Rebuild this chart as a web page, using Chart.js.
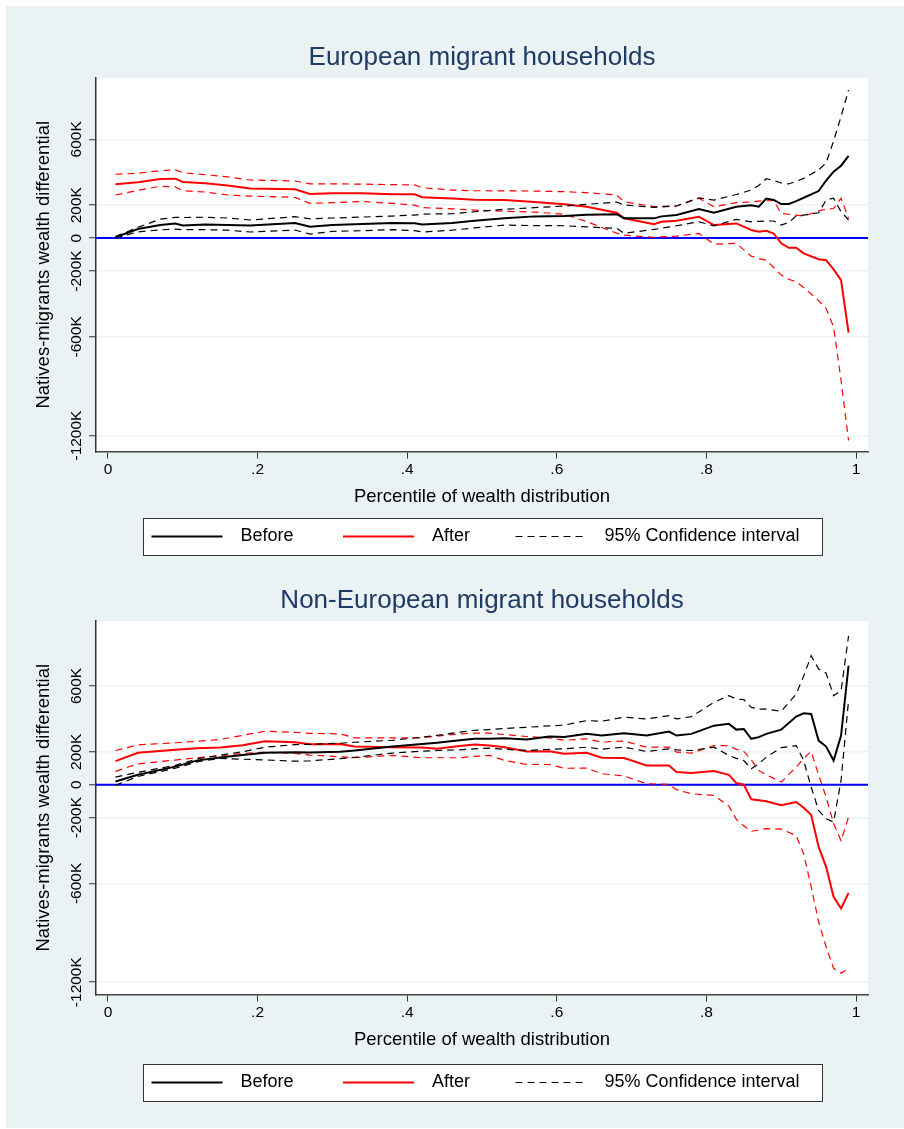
<!DOCTYPE html>
<html>
<head>
<meta charset="utf-8">
<script src="https://cdn.jsdelivr.net/npm/chart.js@4.4.1/dist/chart.umd.min.js"></script>
<style>
  html, body { margin: 0; padding: 0; background: #fff; overflow: hidden; }
  body { position: relative; width: 904px; height: 1129px; }
  .bg { position: absolute; left: 6px; top: 6px; width: 898px; height: 1122px; background: #eaf2f3; }
  canvas { position: absolute; left: 0; }
  #euChart { top: 0; }
  #neChart { top: 543px; }
</style>
</head>
<body>
<div class="bg"></div>
<canvas id="euChart" width="904" height="565"></canvas>
<canvas id="neChart" width="904" height="565"></canvas>
<script>
// axis ticks
const xTicks = [0, 0.2, 0.4, 0.6, 0.8, 1];
const xTickLabels = ['0', '.2', '.4', '.6', '.8', '1'];
const yTicks = [600, 200, 0, -200, -600, -1200];          // thousands
const yTickLabels = ['600K', '200K', '0', '-200K', '-600K', '-1200K'];

// European migrant households (values in thousands)
const euX = [0.01, 0.04, 0.07, 0.09, 0.10, 0.13, 0.16, 0.19, 0.25, 0.27, 0.30, 0.34, 0.38, 0.41, 0.42, 0.46, 0.49, 0.53, 0.57, 0.61, 0.64, 0.68, 0.69, 0.73, 0.74, 0.76, 0.79, 0.81, 0.84, 0.86, 0.87, 0.88, 0.89, 0.90, 0.91, 0.92, 0.93, 0.95, 0.96, 0.97, 0.98, 0.99];
const euBefore   = [5, 55, 80, 88, 77, 83, 80, 77, 91, 69, 80, 85, 91, 90, 83, 92, 105, 120, 132, 135, 142, 145, 120, 120, 132, 140, 177, 154, 190, 199, 191, 240, 232, 207, 207, 225, 245, 286, 350, 404, 440, 500];
const euBeforeHi = [10, 65, 115, 126, 125, 127, 122, 110, 130, 117, 122, 128, 134, 140, 146, 148, 160, 175, 185, 195, 205, 219, 201, 187, 190, 195, 245, 231, 265, 292, 320, 361, 350, 335, 329, 345, 363, 414, 457, 590, 740, 900];
const euBeforeLo = [0, 38, 50, 55, 51, 51, 48, 37, 49, 24, 41, 45, 51, 45, 37, 48, 62, 79, 76, 75, 68, 59, 29, 53, 60, 75, 99, 75, 114, 99, 102, 104, 104, 79, 95, 134, 140, 154, 231, 243, 160, 110];
const euAfter    = [327, 340, 359, 361, 341, 333, 320, 302, 297, 268, 272, 272, 266, 266, 248, 240, 233, 231, 219, 205, 191, 154, 120, 85, 99, 105, 130, 79, 89, 49, 38, 44, 28, -32, -59, -59, -93, -128, -134, -190, -256, -574];
const euAfterHi  = [388, 394, 410, 414, 398, 385, 372, 353, 347, 329, 330, 328, 325, 323, 306, 292, 288, 287, 286, 282, 276, 262, 221, 191, 193, 195, 242, 191, 215, 220, 225, 227, 227, 150, 145, 140, 134, 165, 175, 180, 242, 120];
const euAfterLo  = [262, 290, 315, 311, 288, 280, 262, 255, 248, 211, 215, 223, 211, 200, 185, 178, 170, 163, 158, 145, 100, 30, 18, 4, 8, 12, 28, -37, -32, -110, -125, -134, -180, -225, -250, -265, -300, -380, -428, -540, -865, -1230];

// Non-European migrant households (values in thousands)
const neX = [0.01, 0.04, 0.09, 0.12, 0.15, 0.18, 0.21, 0.25, 0.27, 0.31, 0.33, 0.38, 0.42, 0.44, 0.47, 0.49, 0.51, 0.53, 0.56, 0.59, 0.61, 0.64, 0.66, 0.69, 0.72, 0.75, 0.76, 0.78, 0.81, 0.83, 0.84, 0.85, 0.86, 0.87, 0.88, 0.90, 0.92, 0.93, 0.94, 0.95, 0.96, 0.97, 0.98, 0.99];
const neBefore   = [20, 60, 110, 148, 165, 180, 194, 198, 196, 200, 208, 232, 248, 255, 270, 279, 279, 282, 275, 293, 290, 309, 299, 313, 299, 323, 299, 309, 359, 370, 335, 339, 279, 289, 309, 335, 414, 434, 430, 268, 232, 147, 299, 723];
const neBeforeHi = [46, 75, 118, 158, 180, 200, 228, 244, 245, 252, 258, 270, 289, 300, 319, 330, 335, 342, 349, 358, 362, 390, 386, 410, 400, 420, 400, 414, 501, 541, 521, 517, 470, 460, 460, 446, 551, 660, 784, 703, 678, 541, 571, 905];
const neBeforeLo = [-4, 50, 100, 140, 160, 155, 151, 143, 145, 158, 167, 192, 204, 208, 212, 218, 222, 215, 208, 215, 218, 228, 216, 228, 202, 218, 212, 208, 228, 178, 160, 147, 97, 127, 168, 225, 238, 147, -14, -156, -206, -227, 26, 511];
const neAfter    = [143, 194, 212, 222, 226, 240, 264, 258, 246, 248, 232, 228, 226, 218, 235, 244, 238, 228, 202, 204, 188, 194, 164, 162, 117, 117, 77, 71, 83, 60, 10, 0, -89, -95, -100, -125, -105, -140, -182, -378, -499, -681, -752, -657];
const neAfterHi  = [208, 242, 255, 264, 275, 300, 325, 318, 312, 309, 285, 285, 285, 295, 309, 313, 313, 305, 293, 285, 270, 279, 259, 265, 228, 228, 198, 192, 238, 238, 215, 202, 150, 87, 60, 16, 107, 160, 202, 60, -75, -236, -341, -196];
const neAfterLo  = [81, 127, 150, 164, 175, 190, 198, 190, 180, 170, 164, 178, 164, 164, 164, 172, 178, 147, 123, 123, 100, 101, 67, 53, 6, 2, -30, -55, -65, -130, -210, -250, -283, -275, -267, -270, -310, -420, -620, -833, -985, -1116, -1146, -1116];

// datasets shown in the legend box: Before, After, CI
const legendKeys = [0, 3, 1];

const FONT = '"Liberation Sans", Arial, sans-serif';
Chart.defaults.font.family = FONT;
Chart.defaults.color = '#000';

// stata-ish frame: white plot region, zero line, title and boxed legend
const stataFrame = {
  id: 'stataFrame',
  beforeDraw(chart) {
    const { ctx, chartArea: a } = chart;
    ctx.save();
    ctx.fillStyle = '#fff';
    ctx.fillRect(a.left, a.top, a.right - a.left, a.bottom - a.top);
    ctx.restore();
  },
  beforeDatasetsDraw(chart) {
    const { ctx, chartArea: a } = chart;
    const py = chart.scales.y.getPixelForValue(0);
    ctx.save();
    ctx.strokeStyle = '#0000ff';
    ctx.lineWidth = 2;
    ctx.beginPath();
    ctx.moveTo(a.left, py);
    ctx.lineTo(a.right, py);
    ctx.stroke();
    ctx.restore();
  },
  afterDraw(chart, args, opts) {
    const { ctx, chartArea: a } = chart;
    const cx = (a.left + a.right) / 2;
    ctx.save();
    ctx.font = '26px ' + FONT;
    ctx.fillStyle = '#1e3a66';
    ctx.textAlign = 'center';
    ctx.textBaseline = 'middle';
    ctx.fillText(opts.title, cx, a.top - 20);

    const w = 679, h = 37;
    const left = Math.round(cx - w / 2), top = Math.round(a.bottom + opts.legendTop);
    ctx.fillStyle = '#fff';
    ctx.fillRect(left, top, w, h);
    ctx.strokeStyle = '#333';
    ctx.lineWidth = 1;
    ctx.strokeRect(left + 0.5, top + 0.5, w, h);

    const offsets = [8.5, 200, 372.5];
    const ym = top + h / 2;
    ctx.font = '18px ' + FONT;
    ctx.textAlign = 'left';
    legendKeys.forEach((k, i) => {
      const ds = chart.data.datasets[k];
      const x0 = left + offsets[i];
      ctx.strokeStyle = ds.borderColor;
      ctx.lineWidth = ds.borderWidth;
      ctx.setLineDash(ds.borderDash || []);
      ctx.beginPath();
      ctx.moveTo(x0, ym);
      ctx.lineTo(x0 + 71, ym);
      ctx.stroke();
      ctx.setLineDash([]);
      ctx.fillStyle = '#000';
      ctx.fillText(ds.label, x0 + 89, ym);
    });
    ctx.restore();
  }
};

function panel(id, title, x, series, yMin, yMax, legendTop) {
  const pts = v => x.map((px, i) => ({ x: px, y: v[i] }));
  const solid = (label, color, v) => ({ label, data: pts(v), borderColor: color, borderWidth: 2 });
  const dashed = (label, color, v) => ({ label, data: pts(v), borderColor: color, borderWidth: 1.2, borderDash: [7, 5] });

  return new Chart(document.getElementById(id), {
    type: 'line',
    data: {
      datasets: [
        solid('Before', '#000', series[0]),
        dashed('95% Confidence interval', '#000', series[1]),
        dashed('Before lower bound', '#000', series[2]),
        solid('After', '#ff0000', series[3]),
        dashed('After upper bound', '#ff0000', series[4]),
        dashed('After lower bound', '#ff0000', series[5])
      ]
    },
    plugins: [stataFrame],
    options: {
      responsive: false,
      animation: false,
      events: [],
      layout: { padding: { top: 78, left: 0, right: 36, bottom: 54.9 } },
      elements: { point: { radius: 0 }, line: { tension: 0, fill: false } },
      plugins: {
        legend: { display: false },
        tooltip: { enabled: false },
        stataFrame: { title, legendTop }
      },
      scales: {
        x: {
          type: 'linear',
          min: -0.016,
          max: 1.016,
          afterBuildTicks: s => { s.ticks = xTicks.map(v => ({ value: v })); },
          afterFit: s => { s.height = 58.6; },
          ticks: {
            autoSkip: false, maxRotation: 0, padding: 2.2,
            font: { size: 15.5 }, color: '#000',
            callback: v => xTickLabels[xTicks.indexOf(v)]
          },
          grid: { drawOnChartArea: false, tickLength: 7, tickColor: '#333', tickWidth: 1 },
          border: { color: '#444', width: 1.5 },
          title: {
            display: true, text: 'Percentile of wealth distribution',
            font: { size: 18.5 }, color: '#000', padding: { top: 0, bottom: 2 }
          }
        },
        y: {
          min: yMin,
          max: yMax,
          afterBuildTicks: s => { s.ticks = yTicks.map(v => ({ value: v })); },
          afterFit: s => { s.width = 96; },
          ticks: {
            autoSkip: false, minRotation: 90, maxRotation: 90, crossAlign: 'center', padding: -13,
            font: { size: 15.5 }, color: '#000',
            callback: v => yTickLabels[yTicks.indexOf(v)]
          },
          grid: { color: '#eaf2f3', lineWidth: 1.5, tickLength: 7, tickColor: '#333', tickWidth: 1 },
          border: { color: '#333', width: 1.5 },
          title: {
            display: true, text: 'Natives-migrants wealth differential',
            font: { size: 18.5 }, color: '#000', padding: { top: 33, bottom: 0 }
          }
        }
      }
    }
  });
}

panel('euChart', 'European migrant households', euX,
  [euBefore, euBeforeHi, euBeforeLo, euAfter, euAfterHi, euAfterLo], -1297, 973, 66);
panel('neChart', 'Non-European migrant households', neX,
  [neBefore, neBeforeHi, neBeforeLo, neAfter, neAfterHi, neAfterLo], -1275, 995, 69);
</script>
</body>
</html>
